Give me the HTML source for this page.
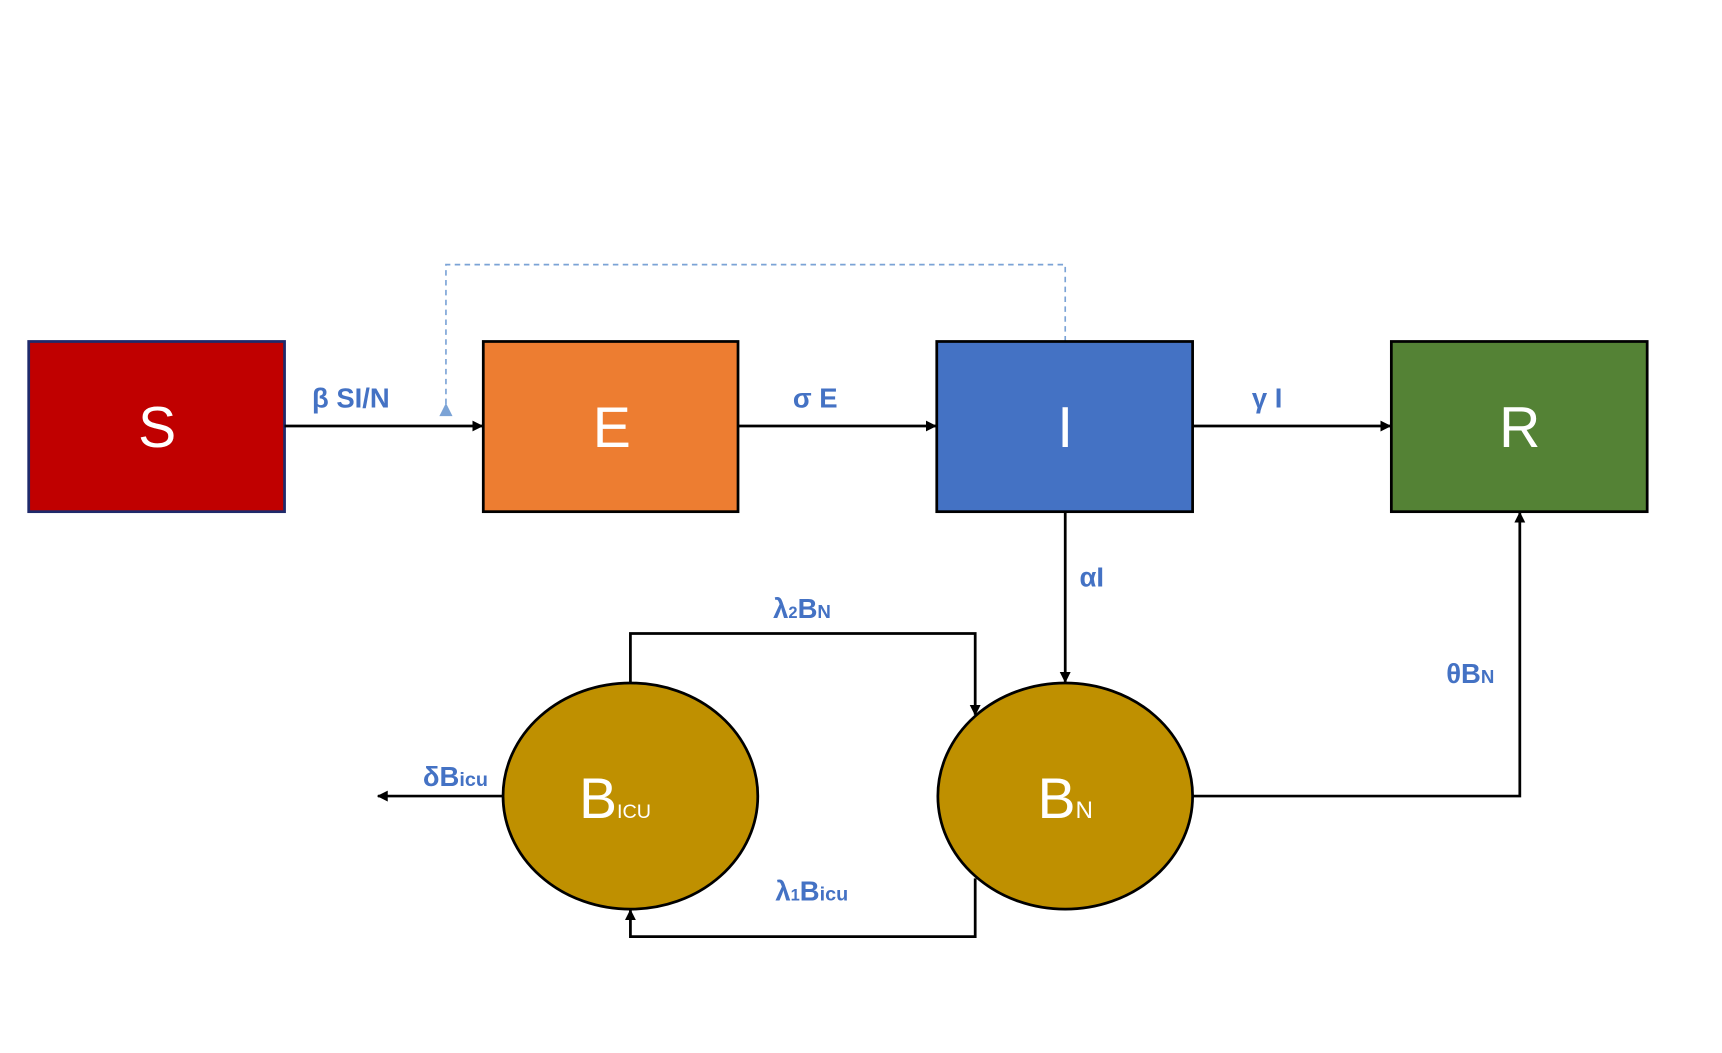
<!DOCTYPE html>
<html><head><meta charset="utf-8"><style>
html,body{margin:0;padding:0;background:#fff;}
svg{display:block}
.l{font-family:"Liberation Sans",sans-serif;font-weight:bold;fill:#4472C4;font-size:25px}
.b{font-family:"Liberation Sans",sans-serif;fill:#fff;font-size:52px;text-anchor:middle}
</style></head><body>
<svg width="1722" height="1053" viewBox="0 0 1568 959" xmlns="http://www.w3.org/2000/svg">
<defs><marker id="a" markerWidth="10" markerHeight="10" refX="9" refY="5" orient="auto" markerUnits="userSpaceOnUse"><path d="M0,0 L10,5 L0,10 Z" fill="#000"/></marker>
<marker id="d" markerWidth="12" markerHeight="12" refX="6" refY="11" orient="0" markerUnits="userSpaceOnUse"><path d="M0,0 L12,0 L6,12 Z" fill="#7BA3D6"/></marker></defs>
<rect width="1568" height="959" fill="#fff"/>
<path d="M970,311 V241 H406 V378" fill="none" stroke="#7BA3D6" stroke-width="1.5" stroke-dasharray="5,4"/>
<path d="M406,367 l-6,12 h12z" fill="#7BA3D6"/>
<rect x="26" y="311" width="233" height="155" fill="#C00000" stroke="#1F2A6B" stroke-width="2.5"/>
<rect x="440" y="311" width="232" height="155" fill="#ED7D31" stroke="#000" stroke-width="2.5"/>
<rect x="853" y="311" width="233" height="155" fill="#4472C4" stroke="#000" stroke-width="2.5"/>
<rect x="1267" y="311" width="233" height="155" fill="#548235" stroke="#000" stroke-width="2.5"/>
<text class="b" x="143" y="407">S</text><text class="b" x="557" y="407">E</text>
<text class="b" x="970" y="407">I</text><text class="b" x="1384" y="407">R</text>
<g stroke="#000" stroke-width="2.5" fill="none">
<line x1="259" y1="388" x2="439" y2="388" marker-end="url(#a)"/>
<line x1="672" y1="388" x2="852" y2="388" marker-end="url(#a)"/>
<line x1="1086" y1="388" x2="1266" y2="388" marker-end="url(#a)"/>
<line x1="970" y1="466" x2="970" y2="621" marker-end="url(#a)"/>
<path d="M574,622 V577 H888 V651" marker-end="url(#a)"/>
<path d="M888,800 V853 H574 V829" marker-end="url(#a)"/>
<line x1="458" y1="725" x2="344" y2="725" marker-end="url(#a)"/>
<path d="M1086,725 H1384 V467" marker-end="url(#a)"/>
</g>
<ellipse cx="574" cy="725" rx="116" ry="103" fill="#BF9000" stroke="#000" stroke-width="2.5"/>
<ellipse cx="970" cy="725" rx="116" ry="103" fill="#BF9000" stroke="#000" stroke-width="2.5"/>
<text class="b" x="560" y="745">B<tspan font-size="18">ICU</tspan></text>
<text class="b" x="970" y="745">B<tspan font-size="22">N</tspan></text>
<text class="l" x="284" y="371">β SI/N</text>
<text class="l" x="722" y="371">σ E</text>
<text class="l" x="1140" y="371">γ I</text>
<text class="l" x="983" y="534">αI</text>
<text class="l" x="704" y="563">λ<tspan font-size="15">2</tspan>B<tspan font-size="17">N</tspan></text>
<text class="l" x="1317" y="622">θB<tspan font-size="17">N</tspan></text>
<text class="l" x="385" y="716">δB<tspan font-size="18">icu</tspan></text>
<text class="l" x="706" y="820">λ<tspan font-size="15">1</tspan>B<tspan font-size="18">icu</tspan></text>
</svg>
</body></html>
